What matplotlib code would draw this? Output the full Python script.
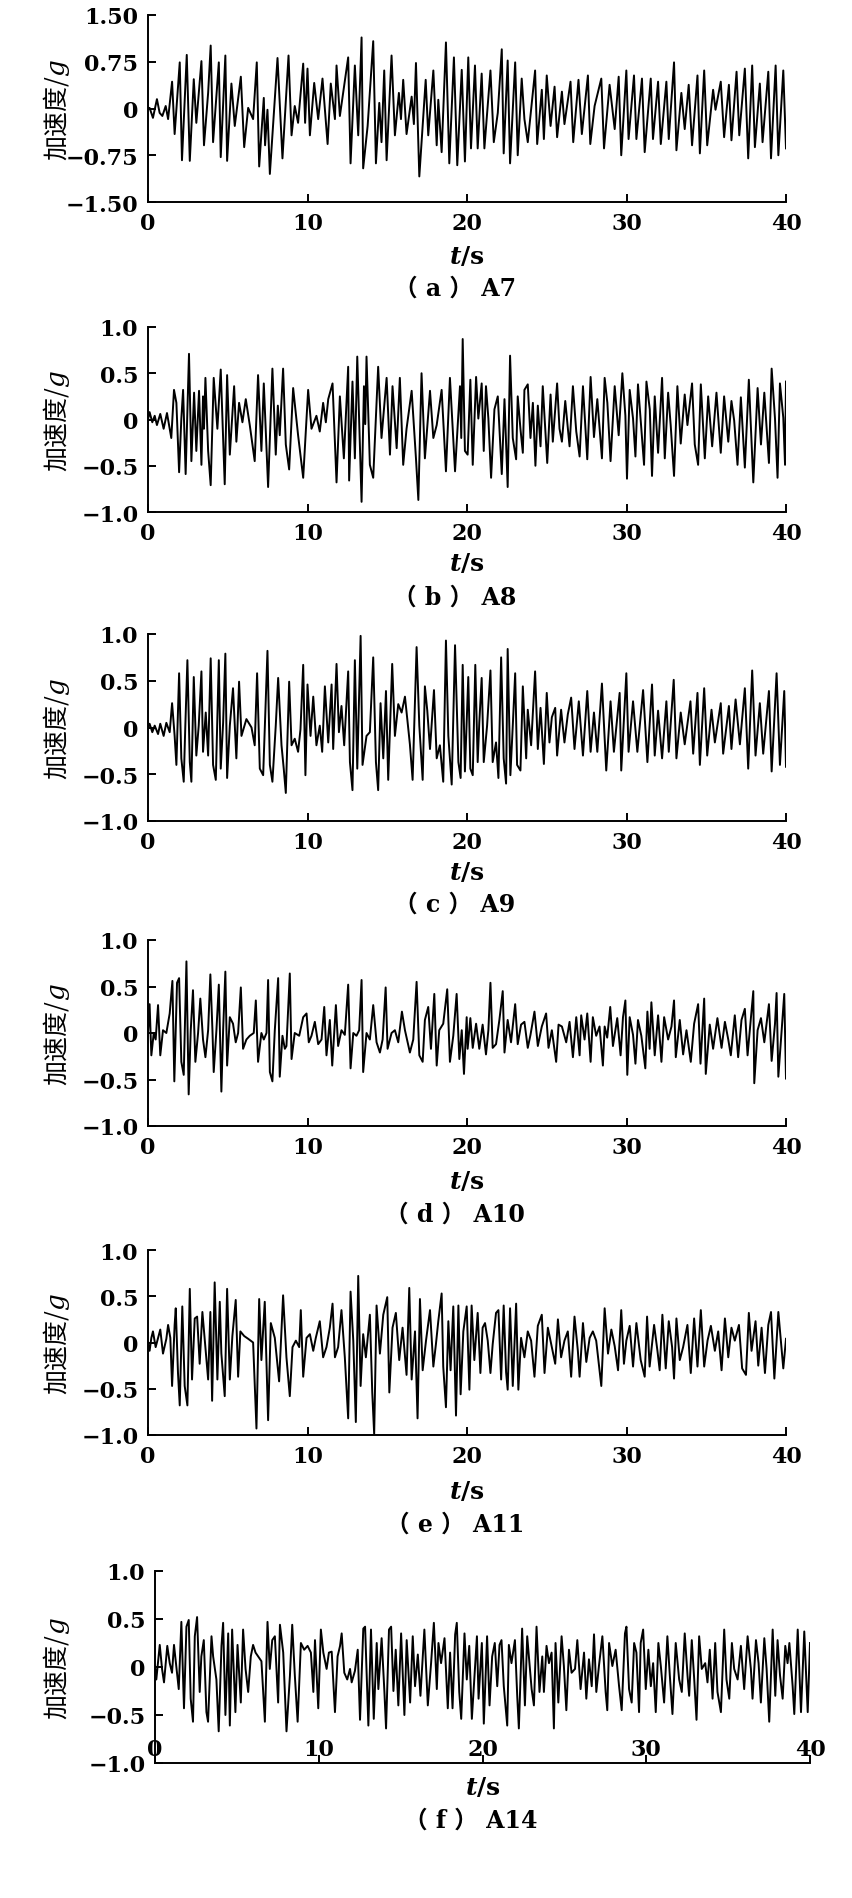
import matplotlib
matplotlib.use("Agg")
import matplotlib.pyplot as plt

# (time s, acceleration g) pairs, peaks and troughs
a7 = [(0.00, 0.00), (0.10, 0.01), (0.31, -0.15), (0.56, 0.15), (0.73, -0.07), (0.90, -0.12), (1.11, 0.04), (1.26, -0.17),
      (1.51, 0.43), (1.67, -0.41), (1.99, 0.74), (2.13, -0.83), (2.43, 0.86), (2.62, -0.84), (2.87, 0.47), (3.03, -0.23),
      (3.35, 0.76), (3.51, -0.59), (3.77, 0.25), (3.93, 1.01), (4.08, -0.54), (4.44, 0.74), (4.56, -0.78), (4.85, 0.85),
      (4.96, -0.84), (5.23, 0.40), (5.44, -0.28), (5.82, 0.51), (6.03, -0.62), (6.28, 0.01), (6.59, -0.17), (6.82, 0.74),
      (6.97, -0.93), (7.26, 0.17), (7.34, -0.59), (7.49, -0.02), (7.64, -1.05), (8.12, 0.81), (8.43, -0.80), (8.81, 0.85),
      (9.00, -0.43), (9.20, 0.04), (9.41, -0.23), (9.73, 0.72), (9.85, -0.23), (10.00, 0.64), (10.15, -0.43), (10.42, 0.41),
      (10.67, -0.17), (10.94, 0.48), (11.26, -0.57), (11.46, 0.40), (11.72, -0.17), (11.82, 0.69), (12.03, -0.12),
      (12.55, 0.82), (12.70, -0.88), (12.97, 0.69), (13.18, -0.43), (13.39, 1.14), (13.49, -0.96), (13.77, -0.28),
      (14.12, 1.08), (14.29, -0.88), (14.50, 0.09), (14.64, -0.54), (14.81, 0.61), (14.96, -0.83), (15.27, 0.85),
      (15.48, -0.43), (15.73, 0.25), (15.86, -0.17), (16.00, 0.46), (16.21, -0.41), (16.53, 0.19), (16.67, -0.25),
      (16.80, 0.73), (17.01, -1.09), (17.41, 0.46), (17.57, -0.43), (17.89, 0.61), (18.10, -0.59), (18.20, 0.14),
      (18.41, -0.70), (18.68, 1.06), (18.89, -0.88), (19.18, 0.82), (19.39, -0.91), (19.67, 0.62), (19.87, -0.85),
      (20.08, 0.82), (20.25, -0.64), (20.50, 0.69), (20.67, -0.64), (20.92, 0.56), (21.09, -0.64), (21.47, 0.61),
      (21.68, -0.54), (21.93, -0.07), (22.18, 0.95), (22.30, -0.72), (22.55, 0.77), (22.70, -0.88), (23.02, 0.74),
      (23.18, -0.75), (23.43, 0.48), (23.60, -0.17), (23.81, -0.54), (24.27, 0.61), (24.40, -0.57), (24.69, 0.30),
      (24.82, -0.49), (25.00, 0.53), (25.24, -0.28), (25.49, 0.35), (25.65, -0.46), (25.95, 0.27), (26.11, -0.25),
      (26.49, 0.43), (26.66, -0.54), (26.99, 0.46), (27.20, -0.41), (27.58, 0.53), (27.73, -0.57), (28.00, 0.04),
      (28.42, 0.48), (28.59, -0.64), (28.94, 0.38), (29.26, -0.33), (29.51, 0.51), (29.67, -0.75), (29.99, 0.61),
      (30.13, -0.49), (30.47, 0.53), (30.62, -0.49), (30.97, 0.48), (31.14, -0.70), (31.52, 0.48), (31.66, -0.49),
      (31.98, 0.43), (32.15, -0.57), (32.50, 0.43), (32.65, -0.49), (32.98, 0.74), (33.13, -0.67), (33.44, 0.25),
      (33.65, -0.33), (33.90, 0.38), (34.11, -0.59), (34.45, 0.53), (34.60, -0.72), (34.87, 0.61), (35.06, -0.59),
      (35.43, 0.30), (35.58, -0.02), (35.91, 0.43), (36.12, -0.46), (36.42, 0.38), (36.58, -0.51), (36.90, 0.59),
      (37.07, -0.43), (37.42, 0.64), (37.63, -0.80), (37.88, 0.69), (38.05, -0.62), (38.36, 0.40), (38.53, -0.54),
      (38.89, 0.59), (39.06, -0.80), (39.35, 0.69), (39.52, -0.75), (39.83, 0.61), (40.00, -0.64)]

a8 = [(0.00, 0.00), (0.10, 0.08), (0.27, -0.03), (0.42, 0.04), (0.56, -0.06), (0.77, 0.06), (0.98, -0.10), (1.19, 0.07),
      (1.46, -0.20), (1.63, 0.32), (1.78, 0.18), (1.95, -0.57), (2.09, 0.01), (2.20, 0.32), (2.36, -0.59), (2.57, 0.71),
      (2.72, -0.45), (2.89, 0.29), (3.03, -0.34), (3.20, 0.31), (3.35, -0.49), (3.45, 0.25), (3.51, -0.10), (3.60, 0.45),
      (3.77, -0.34), (3.93, -0.71), (4.12, 0.45), (4.35, -0.10), (4.56, 0.54), (4.81, -0.70), (4.96, 0.48), (5.13, -0.38),
      (5.40, 0.36), (5.54, -0.24), (5.71, 0.18), (5.92, -0.03), (6.13, 0.22), (6.38, -0.06), (6.69, -0.45), (6.90, 0.48),
      (7.11, -0.34), (7.26, 0.39), (7.53, -0.73), (7.80, 0.55), (8.01, -0.38), (8.14, 0.15), (8.26, -0.17), (8.47, 0.55),
      (8.64, -0.27), (8.85, -0.54), (9.10, 0.34), (9.41, -0.17), (9.73, -0.63), (10.04, 0.32), (10.25, -0.10),
      (10.56, 0.04), (10.77, -0.13), (10.98, 0.18), (11.15, -0.03), (11.30, 0.22), (11.57, 0.39), (11.82, -0.68),
      (12.03, 0.25), (12.28, -0.42), (12.55, 0.57), (12.61, -0.66), (12.82, 0.41), (12.97, -0.42), (13.12, 0.68),
      (13.39, -0.89), (13.54, 0.36), (13.62, -0.05), (13.70, 0.68), (13.91, -0.49), (14.12, -0.63), (14.43, 0.57),
      (14.64, -0.20), (14.96, 0.45), (15.17, -0.38), (15.33, 0.36), (15.59, -0.31), (15.79, 0.45), (16.00, -0.49),
      (16.21, -0.10), (16.53, 0.31), (16.80, -0.42), (16.95, -0.87), (17.15, 0.50), (17.36, -0.42), (17.68, 0.31),
      (17.89, -0.20), (18.10, -0.06), (18.41, 0.32), (18.68, -0.56), (18.93, 0.45), (19.25, -0.56), (19.56, 0.36),
      (19.64, -0.20), (19.73, 0.87), (19.87, -0.34), (20.04, -0.38), (20.21, 0.43), (20.36, -0.49), (20.57, 0.46),
      (20.71, 0.01), (20.92, 0.39), (21.05, -0.34), (21.19, 0.36), (21.34, 0.01), (21.51, -0.63), (21.72, 0.11),
      (21.93, 0.25), (22.18, -0.59), (22.35, 0.22), (22.55, -0.73), (22.70, 0.69), (22.87, -0.20), (23.08, -0.43),
      (23.18, 0.25), (23.35, -0.10), (23.50, -0.36), (23.60, 0.32), (23.81, 0.38), (23.98, -0.20), (24.13, 0.18),
      (24.29, -0.50), (24.44, 0.15), (24.61, -0.29), (24.75, 0.36), (25.03, -0.47), (25.24, 0.27), (25.38, -0.24),
      (25.65, 0.39), (25.80, -0.10), (25.95, -0.24), (26.16, 0.20), (26.43, -0.29), (26.64, 0.36), (26.85, -0.13),
      (27.06, -0.40), (27.27, 0.36), (27.54, -0.43), (27.75, 0.46), (27.96, -0.19), (28.17, 0.22), (28.46, -0.42),
      (28.63, 0.45), (28.80, 0.18), (29.00, -0.45), (29.26, 0.36), (29.51, -0.17), (29.74, 0.50), (29.93, 0.04),
      (30.03, -0.64), (30.20, 0.32), (30.41, 0.01), (30.56, -0.40), (30.72, 0.38), (30.93, -0.10), (31.10, -0.49),
      (31.25, 0.41), (31.46, 0.11), (31.60, -0.61), (31.77, 0.25), (31.98, -0.36), (32.23, 0.45), (32.40, -0.42),
      (32.61, 0.29), (32.77, -0.06), (32.98, -0.61), (33.19, 0.36), (33.40, -0.26), (33.65, 0.27), (33.82, -0.06),
      (34.11, 0.39), (34.28, -0.27), (34.49, -0.49), (34.66, 0.38), (34.91, -0.42), (35.12, 0.25), (35.37, -0.29),
      (35.64, 0.29), (35.91, -0.36), (36.12, 0.25), (36.38, -0.24), (36.58, 0.20), (36.75, -0.01), (36.96, -0.49),
      (37.17, 0.24), (37.42, -0.52), (37.67, 0.43), (37.95, -0.68), (38.22, 0.34), (38.43, -0.27), (38.64, 0.29),
      (38.93, -0.47), (39.10, 0.55), (39.31, 0.01), (39.47, -0.63), (39.62, 0.39), (39.83, 0.02), (39.94, -0.49),
      (40.00, 0.41)]

a9 = [(0.00, 0.00), (0.10, 0.04), (0.27, -0.05), (0.42, 0.02), (0.63, -0.07), (0.77, 0.04), (0.98, -0.09), (1.15, 0.05),
      (1.36, -0.05), (1.51, 0.26), (1.67, -0.09), (1.78, -0.40), (1.95, 0.58), (2.09, -0.33), (2.24, -0.58), (2.34, 0.02),
      (2.47, 0.72), (2.62, -0.37), (2.72, -0.58), (2.87, 0.54), (3.03, -0.30), (3.18, 0.02), (3.35, 0.60), (3.45, -0.26),
      (3.62, 0.16), (3.77, -0.30), (3.93, 0.74), (4.08, -0.40), (4.25, -0.56), (4.44, 0.72), (4.56, -0.44), (4.71, 0.05),
      (4.85, 0.79), (4.96, -0.54), (5.13, 0.02), (5.33, 0.42), (5.54, -0.33), (5.71, 0.49), (5.86, -0.09), (6.17, 0.09),
      (6.49, 0.00), (6.69, -0.19), (6.84, 0.58), (7.01, -0.44), (7.22, -0.51), (7.49, 0.82), (7.64, -0.40), (7.80, -0.58),
      (8.01, 0.02), (8.16, 0.53), (8.37, -0.19), (8.51, -0.44), (8.64, -0.70), (8.85, 0.49), (9.00, -0.19), (9.20, -0.12),
      (9.41, -0.26), (9.56, -0.02), (9.73, 0.67), (9.87, -0.51), (10.00, 0.46), (10.19, -0.09), (10.36, 0.33),
      (10.56, -0.19), (10.77, 0.02), (10.92, -0.26), (11.09, 0.44), (11.30, -0.16), (11.51, 0.46), (11.61, -0.23),
      (11.82, 0.68), (11.97, -0.05), (12.13, 0.23), (12.30, -0.19), (12.55, 0.60), (12.66, -0.37), (12.82, -0.67),
      (12.97, 0.72), (13.12, -0.44), (13.33, 0.98), (13.45, -0.40), (13.70, -0.09), (13.91, -0.05), (14.12, 0.75),
      (14.29, -0.37), (14.43, -0.67), (14.58, 0.26), (14.75, -0.33), (14.92, 0.39), (15.06, -0.56), (15.31, 0.68),
      (15.48, -0.09), (15.69, 0.25), (15.90, 0.16), (16.11, 0.33), (16.42, -0.18), (16.59, -0.56), (16.84, 0.86),
      (17.01, 0.02), (17.22, -0.56), (17.36, 0.44), (17.51, 0.18), (17.68, -0.23), (17.93, 0.40), (18.10, -0.33),
      (18.30, -0.19), (18.51, -0.58), (18.68, 0.93), (18.83, -0.09), (19.04, -0.61), (19.25, 0.88), (19.46, -0.37),
      (19.60, -0.54), (19.73, 0.67), (19.87, -0.47), (20.08, 0.54), (20.21, -0.44), (20.36, -0.51), (20.52, 0.67),
      (20.67, -0.37), (20.77, 0.05), (20.92, 0.53), (21.05, -0.37), (21.26, 0.02), (21.47, 0.61), (21.61, -0.37),
      (21.82, -0.16), (21.97, -0.54), (22.14, 0.75), (22.30, -0.33), (22.45, -0.60), (22.55, 0.84), (22.72, -0.51),
      (22.87, 0.02), (23.02, 0.58), (23.14, -0.40), (23.35, -0.46), (23.50, 0.44), (23.71, -0.33), (23.81, 0.19),
      (24.02, -0.19), (24.27, 0.60), (24.44, -0.23), (24.61, 0.21), (24.82, -0.39), (25.00, 0.37), (25.17, -0.16),
      (25.32, 0.11), (25.53, 0.21), (25.65, -0.30), (25.90, 0.19), (26.11, -0.16), (26.32, 0.14), (26.53, 0.32),
      (26.74, -0.23), (27.01, 0.28), (27.27, -0.30), (27.54, 0.39), (27.75, -0.26), (27.96, 0.16), (28.17, -0.26),
      (28.46, 0.47), (28.73, -0.46), (29.00, 0.28), (29.21, -0.26), (29.57, 0.37), (29.67, -0.46), (29.99, 0.58),
      (30.13, -0.26), (30.41, 0.28), (30.68, -0.26), (31.04, 0.40), (31.31, -0.37), (31.60, 0.46), (31.77, -0.30),
      (31.98, 0.18), (32.23, -0.33), (32.50, 0.28), (32.65, -0.26), (32.96, 0.51), (33.13, -0.33), (33.40, 0.16),
      (33.65, -0.18), (34.01, 0.28), (34.18, -0.28), (34.45, 0.37), (34.60, -0.40), (34.87, 0.42), (35.06, -0.30),
      (35.33, 0.19), (35.54, -0.16), (35.91, 0.26), (36.06, -0.28), (36.42, 0.23), (36.58, -0.23), (36.84, 0.30),
      (37.11, -0.18), (37.42, 0.42), (37.63, -0.44), (37.88, 0.61), (38.09, -0.30), (38.36, 0.26), (38.57, -0.28),
      (38.93, 0.39), (39.10, -0.47), (39.41, 0.58), (39.62, -0.40), (39.89, 0.39), (40.00, -0.42)]

a10 = [(0.00, 0.00), (0.10, 0.31), (0.21, -0.24), (0.36, 0.00), (0.48, -0.07), (0.63, 0.30), (0.77, -0.24), (0.94, 0.03),
       (1.15, 0.00), (1.36, 0.21), (1.53, 0.56), (1.65, -0.52), (1.82, 0.54), (1.95, 0.59), (2.09, -0.31), (2.24, -0.45),
       (2.41, 0.77), (2.55, -0.66), (2.68, 0.03), (2.82, 0.46), (2.97, -0.31), (3.14, 0.00), (3.28, 0.37), (3.45, -0.07),
       (3.60, -0.26), (3.77, 0.03), (3.91, 0.63), (4.04, 0.03), (4.12, -0.42), (4.29, 0.03), (4.44, 0.52), (4.60, -0.63),
       (4.71, 0.03), (4.85, 0.66), (4.96, -0.35), (5.13, 0.17), (5.33, 0.10), (5.50, -0.10), (5.65, 0.00), (5.82, 0.49),
       (5.96, -0.17), (6.17, -0.07), (6.38, -0.03), (6.63, 0.00), (6.76, 0.35), (6.90, -0.31), (7.11, 0.00), (7.26, -0.07),
       (7.43, 0.00), (7.53, 0.57), (7.64, -0.42), (7.80, -0.52), (7.95, 0.03), (8.16, 0.59), (8.26, -0.47), (8.43, -0.03),
       (8.58, -0.17), (8.68, -0.14), (8.89, 0.64), (9.00, -0.28), (9.20, 0.00), (9.48, -0.03), (9.73, 0.17), (9.94, 0.21),
       (10.08, -0.10), (10.25, -0.03), (10.46, 0.12), (10.67, -0.12), (10.88, -0.07), (11.05, 0.28), (11.19, -0.24),
       (11.40, 0.14), (11.55, -0.35), (11.78, 0.30), (11.92, -0.14), (12.13, 0.03), (12.34, -0.02), (12.55, 0.52),
       (12.70, -0.38), (12.87, 0.00), (13.07, -0.03), (13.24, 0.03), (13.39, 0.57), (13.49, -0.42), (13.70, 0.00),
       (13.91, -0.07), (14.12, 0.30), (14.33, -0.10), (14.54, -0.21), (14.71, -0.07), (14.90, 0.49), (15.02, -0.17),
       (15.27, 0.00), (15.48, 0.03), (15.69, -0.10), (15.92, 0.23), (16.11, 0.03), (16.42, -0.21), (16.63, -0.07),
       (16.84, 0.55), (17.01, -0.24), (17.22, -0.31), (17.36, 0.14), (17.57, 0.28), (17.74, -0.17), (17.95, 0.42),
       (18.10, -0.35), (18.26, 0.03), (18.51, 0.10), (18.76, 0.47), (18.93, -0.31), (19.14, -0.03), (19.35, 0.42),
       (19.52, -0.28), (19.67, 0.03), (19.81, -0.44), (19.98, 0.17), (20.04, -0.17), (20.21, 0.16), (20.36, -0.16),
       (20.57, 0.10), (20.77, -0.17), (20.98, 0.09), (21.19, -0.23), (21.34, 0.03), (21.47, 0.54), (21.61, -0.16),
       (21.82, -0.12), (22.03, 0.14), (22.24, 0.45), (22.35, -0.21), (22.55, 0.14), (22.76, -0.10), (23.02, 0.31),
       (23.18, -0.12), (23.39, 0.09), (23.60, 0.12), (23.81, -0.16), (23.98, -0.02), (24.23, 0.23), (24.44, -0.14),
       (24.69, 0.07), (24.96, 0.21), (25.11, -0.16), (25.32, 0.03), (25.59, -0.31), (25.74, 0.09), (25.95, 0.07),
       (26.22, -0.10), (26.43, 0.12), (26.64, -0.26), (26.85, 0.17), (27.06, -0.24), (27.16, 0.19), (27.37, -0.07),
       (27.54, 0.21), (27.75, -0.31), (27.89, 0.17), (28.10, -0.03), (28.31, 0.07), (28.52, -0.35), (28.63, 0.07),
       (28.79, -0.05), (28.98, 0.28), (29.15, -0.14), (29.42, 0.16), (29.63, -0.24), (29.78, 0.17), (29.93, 0.35),
       (30.05, -0.45), (30.20, 0.17), (30.41, -0.02), (30.56, -0.33), (30.72, 0.14), (30.93, -0.03), (31.18, -0.38),
       (31.31, 0.23), (31.45, -0.17), (31.56, 0.33), (31.77, -0.24), (31.98, 0.19), (32.19, -0.31), (32.36, 0.17),
       (32.61, -0.07), (32.82, 0.07), (32.98, 0.35), (33.09, -0.26), (33.34, 0.14), (33.55, -0.23), (33.76, 0.03),
       (34.03, -0.31), (34.24, 0.10), (34.49, 0.31), (34.64, -0.33), (34.87, 0.37), (34.97, -0.44), (35.22, 0.09),
       (35.43, -0.17), (35.70, 0.16), (35.96, -0.16), (36.17, 0.12), (36.38, -0.07), (36.54, -0.24), (36.79, 0.19),
       (37.00, -0.26), (37.21, 0.14), (37.42, 0.26), (37.59, -0.24), (37.80, 0.16), (37.95, 0.45), (38.01, -0.54),
       (38.22, 0.03), (38.43, 0.16), (38.64, -0.10), (38.93, 0.31), (39.10, -0.30), (39.31, 0.10), (39.41, 0.43),
       (39.52, -0.47), (39.73, 0.03), (39.89, 0.42), (40.00, -0.49)]

a11 = [(0.00, 0.00), (0.10, -0.09), (0.21, 0.05), (0.31, 0.12), (0.48, -0.05), (0.63, 0.05), (0.77, 0.14), (0.94, -0.12),
       (1.15, 0.04), (1.26, 0.19), (1.40, 0.05), (1.51, -0.47), (1.67, 0.19), (1.74, 0.37), (1.88, -0.33), (1.99, -0.68),
       (2.15, 0.39), (2.30, -0.47), (2.47, -0.68), (2.62, 0.58), (2.76, -0.40), (2.93, 0.26), (3.08, 0.28), (3.24, -0.23),
       (3.41, 0.33), (3.56, 0.02), (3.77, -0.40), (3.91, 0.33), (4.02, -0.63), (4.18, 0.65), (4.35, -0.40), (4.50, 0.44),
       (4.60, -0.12), (4.81, -0.58), (4.96, 0.58), (5.13, -0.40), (5.29, 0.07), (5.50, 0.46), (5.65, -0.37), (5.79, 0.12),
       (6.03, 0.07), (6.28, 0.04), (6.59, 0.00), (6.80, -0.93), (6.97, 0.47), (7.11, -0.19), (7.32, 0.44), (7.53, -0.84),
       (7.70, 0.21), (7.95, 0.05), (8.22, -0.42), (8.47, 0.51), (8.68, -0.16), (8.89, -0.58), (9.06, -0.05), (9.27, 0.02),
       (9.48, -0.05), (9.58, 0.35), (9.73, -0.37), (9.94, 0.05), (10.15, 0.09), (10.36, -0.09), (10.52, 0.05),
       (10.77, 0.23), (10.98, -0.16), (11.19, -0.05), (11.40, 0.16), (11.57, 0.42), (11.72, -0.16), (11.92, -0.05),
       (12.13, 0.35), (12.34, -0.16), (12.55, -0.82), (12.70, 0.55), (12.87, 0.02), (13.03, -0.86), (13.18, 0.72),
       (13.33, -0.47), (13.49, 0.09), (13.66, -0.16), (13.91, 0.30), (14.06, -0.54), (14.18, -0.99), (14.33, 0.40),
       (14.54, -0.12), (14.75, 0.30), (15.00, 0.49), (15.13, -0.54), (15.33, 0.16), (15.54, 0.32), (15.75, -0.19),
       (15.96, 0.16), (16.21, -0.35), (16.38, 0.59), (16.53, -0.40), (16.74, 0.12), (16.90, -0.82), (17.05, 0.47),
       (17.22, -0.30), (17.43, 0.02), (17.68, 0.35), (17.89, -0.26), (18.05, -0.02), (18.20, 0.23), (18.41, 0.53),
       (18.51, -0.26), (18.68, -0.70), (18.83, 0.23), (18.97, -0.30), (19.14, 0.39), (19.31, -0.79), (19.46, 0.40),
       (19.60, -0.56), (19.77, 0.12), (19.98, 0.39), (20.15, -0.51), (20.29, 0.40), (20.46, -0.19), (20.67, 0.32),
       (20.84, -0.33), (20.98, 0.16), (21.13, 0.21), (21.30, 0.02), (21.47, -0.33), (21.61, -0.02), (21.82, 0.32),
       (21.97, 0.35), (22.14, -0.40), (22.30, 0.40), (22.45, -0.32), (22.55, -0.51), (22.70, 0.37), (22.87, -0.47),
       (23.08, 0.42), (23.22, -0.51), (23.39, 0.05), (23.60, -0.16), (23.81, 0.12), (24.02, 0.02), (24.23, -0.37),
       (24.44, 0.18), (24.69, 0.30), (24.86, -0.33), (25.07, 0.16), (25.28, -0.02), (25.53, -0.23), (25.70, 0.25),
       (25.90, -0.16), (26.11, 0.02), (26.32, 0.12), (26.53, -0.37), (26.74, 0.28), (26.95, -0.09), (27.06, -0.37),
       (27.27, 0.21), (27.48, -0.21), (27.69, 0.05), (27.89, 0.12), (28.10, 0.02), (28.42, -0.47), (28.63, 0.37),
       (28.84, -0.12), (29.05, 0.14), (29.26, -0.04), (29.47, -0.30), (29.67, 0.35), (29.84, -0.23), (29.99, 0.02),
       (30.20, 0.18), (30.41, -0.26), (30.62, 0.21), (30.89, -0.19), (31.14, -0.37), (31.29, 0.28), (31.45, -0.26),
       (31.73, 0.19), (31.94, -0.09), (32.08, -0.30), (32.25, 0.30), (32.46, -0.28), (32.65, 0.23), (32.86, -0.05),
       (32.98, -0.39), (33.13, 0.26), (33.34, -0.19), (33.55, -0.05), (33.82, 0.19), (34.03, -0.33), (34.24, 0.26),
       (34.45, -0.26), (34.66, 0.35), (34.87, -0.26), (35.08, 0.02), (35.29, 0.18), (35.54, -0.09), (35.75, 0.12),
       (35.96, -0.30), (36.17, 0.26), (36.38, -0.16), (36.58, 0.16), (36.79, 0.02), (37.05, 0.19), (37.25, -0.28),
       (37.49, -0.35), (37.67, 0.32), (37.84, -0.09), (38.09, 0.23), (38.26, -0.25), (38.47, 0.16), (38.68, -0.33),
       (38.89, 0.19), (39.06, 0.33), (39.27, -0.39), (39.52, 0.33), (39.68, 0.02), (39.83, -0.28), (40.00, 0.04)]

a14 = [(0.00, 0.01), (0.08, -0.13), (0.29, 0.23), (0.43, -0.02), (0.55, -0.16), (0.75, 0.22), (0.90, 0.04), (1.04, -0.06),
       (1.16, 0.23), (1.30, 0.01), (1.45, -0.23), (1.61, 0.47), (1.77, -0.43), (1.92, 0.42), (2.06, 0.49), (2.18, -0.33),
       (2.32, -0.57), (2.43, 0.32), (2.57, 0.52), (2.73, -0.26), (2.83, 0.11), (2.98, 0.28), (3.14, -0.47), (3.24, -0.57),
       (3.45, 0.32), (3.55, 0.11), (3.75, -0.13), (3.89, -0.67), (4.06, 0.22), (4.16, 0.46), (4.30, -0.50), (4.47, 0.35),
       (4.57, -0.61), (4.71, 0.39), (4.91, -0.47), (5.04, 0.23), (5.24, -0.37), (5.38, 0.39), (5.53, -0.02), (5.69, -0.26),
       (5.85, 0.11), (5.99, 0.23), (6.14, 0.15), (6.30, 0.11), (6.50, 0.06), (6.71, -0.57), (6.87, 0.47), (7.01, -0.02),
       (7.16, 0.28), (7.32, 0.32), (7.52, -0.37), (7.63, 0.44), (7.83, 0.15), (8.03, -0.67), (8.24, -0.09), (8.38, 0.44),
       (8.54, -0.09), (8.71, -0.57), (8.91, 0.25), (9.11, 0.18), (9.32, 0.22), (9.52, 0.15), (9.67, -0.26), (9.77, 0.28),
       (9.97, -0.43), (10.13, 0.39), (10.28, 0.15), (10.48, -0.02), (10.62, 0.15), (10.79, 0.16), (10.99, -0.47),
       (11.15, 0.11), (11.30, 0.22), (11.40, 0.35), (11.56, -0.06), (11.74, -0.13), (11.91, -0.02), (12.01, -0.16),
       (12.21, -0.04), (12.38, 0.18), (12.52, -0.55), (12.72, 0.40), (12.83, 0.42), (13.03, -0.61), (13.19, 0.39),
       (13.36, -0.54), (13.54, 0.25), (13.64, -0.23), (13.84, 0.30), (14.01, -0.26), (14.11, -0.64), (14.29, 0.39),
       (14.42, 0.42), (14.56, -0.25), (14.70, 0.18), (14.86, -0.40), (15.03, 0.35), (15.23, -0.50), (15.37, 0.28),
       (15.58, -0.37), (15.74, 0.32), (15.88, -0.20), (16.05, 0.13), (16.21, -0.30), (16.45, 0.39), (16.66, -0.40),
       (16.86, 0.04), (17.03, 0.46), (17.21, -0.23), (17.31, 0.25), (17.47, 0.04), (17.68, 0.30), (17.88, -0.43),
       (18.02, 0.15), (18.17, -0.43), (18.33, 0.34), (18.43, 0.46), (18.58, -0.26), (18.70, -0.54), (18.90, 0.35),
       (19.04, -0.13), (19.19, 0.22), (19.35, -0.54), (19.51, -0.09), (19.66, 0.32), (19.76, -0.33), (19.96, 0.25),
       (20.08, -0.59), (20.28, 0.32), (20.43, -0.40), (20.59, 0.11), (20.75, 0.25), (20.90, -0.20), (21.04, 0.23),
       (21.16, 0.28), (21.30, -0.20), (21.51, -0.61), (21.61, 0.23), (21.77, 0.04), (21.98, 0.28), (22.12, -0.30),
       (22.22, -0.64), (22.42, 0.40), (22.59, -0.40), (22.73, 0.32), (22.87, 0.04), (23.00, -0.23), (23.14, -0.40),
       (23.30, 0.42), (23.48, -0.26), (23.65, 0.11), (23.75, -0.26), (23.91, 0.22), (24.06, 0.04), (24.22, 0.15),
       (24.36, -0.64), (24.46, 0.25), (24.63, -0.37), (24.83, 0.32), (24.97, 0.01), (25.12, -0.45), (25.28, 0.18),
       (25.44, -0.06), (25.65, -0.02), (25.79, 0.28), (25.99, -0.23), (26.20, 0.15), (26.34, -0.33), (26.50, 0.08),
       (26.67, -0.20), (26.81, 0.34), (26.95, -0.26), (27.11, 0.01), (27.32, 0.32), (27.52, -0.26), (27.62, -0.45),
       (27.73, 0.25), (27.93, 0.01), (28.13, 0.18), (28.34, -0.20), (28.50, -0.45), (28.70, 0.35), (28.79, 0.42),
       (28.95, -0.23), (29.11, -0.37), (29.26, 0.25), (29.40, 0.15), (29.56, -0.47), (29.66, 0.25), (29.81, 0.39),
       (29.97, -0.23), (30.13, 0.18), (30.28, -0.20), (30.42, 0.04), (30.58, -0.47), (30.74, 0.25), (30.89, 0.01),
       (31.09, -0.37), (31.29, 0.32), (31.44, -0.09), (31.60, -0.49), (31.80, 0.25), (32.01, -0.13), (32.17, -0.26),
       (32.35, 0.35), (32.52, -0.09), (32.62, -0.30), (32.78, 0.28), (32.93, -0.13), (33.07, -0.55), (33.23, 0.32),
       (33.39, -0.02), (33.60, 0.04), (33.74, -0.16), (33.88, 0.18), (34.05, -0.33), (34.21, 0.25), (34.35, -0.26),
       (34.56, -0.47), (34.76, 0.39), (34.90, -0.13), (35.07, -0.33), (35.23, 0.25), (35.37, -0.02), (35.58, -0.13),
       (35.78, 0.22), (35.98, -0.23), (36.19, 0.32), (36.39, -0.02), (36.49, -0.33), (36.70, 0.28), (36.86, 0.04),
       (37.00, -0.37), (37.21, 0.30), (37.35, -0.02), (37.51, -0.57), (37.72, 0.39), (37.88, -0.30), (38.02, 0.28),
       (38.17, -0.09), (38.33, -0.33), (38.49, 0.22), (38.63, 0.04), (38.74, 0.25), (38.94, -0.20), (39.04, -0.49),
       (39.25, 0.39), (39.45, -0.47), (39.65, 0.37), (39.86, -0.47), (40.00, 0.25)]

captions = ["（ a ） A7", "（ b ） A8", "（ c ） A9", "（ d ） A10", "（ e ） A11", "（ f ） A14"]
x_ticks = [0, 10, 20, 30, 40]
y_ticks_a = [1.5, 0.75, 0, -0.75, -1.5]
y_labels_a = ["1.50", "0.75", "0", "\u22120.75", "\u22121.50"]
y_ticks = [1.0, 0.5, 0, -0.5, -1.0]
y_labels = ["1.0", "0.5", "0", "\u22120.5", "\u22121.0"]

W, H = 852, 1899


def main():
    plt.rcParams["mathtext.fontset"] = "custom"
    plt.rcParams["mathtext.it"] = "DejaVu Serif:italic:bold"
    plt.rcParams["mathtext.rm"] = "DejaVu Serif:bold"

    fig = plt.figure(figsize=(W / 100, H / 100), dpi=100)

    # axes boxes in pixels: left, top, right, bottom
    boxes = [(148, 16, 786, 203), (148, 328, 786, 513), (148, 635, 786, 822),
             (148, 941, 786, 1127), (148, 1251, 786, 1436), (155, 1572, 810, 1764)]
    xlab_y = [257, 564, 873, 1182, 1492, 1788]
    cap_y = [289, 598, 905, 1215, 1525, 1821]
    series = [a7, a8, a9, a10, a11, a14]

    tick_font = dict(family="DejaVu Serif", weight="bold", size=16)
    renderer = fig.canvas.get_renderer()

    for i, data in enumerate(series):
        x0, y0, x1, y1 = boxes[i]
        ax = fig.add_axes([x0 / W, 1 - y1 / H, (x1 - x0) / W, (y1 - y0) / H])
        t = [p[0] for p in data]
        v = [p[1] for p in data]
        ax.plot(t, v, color="black", lw=1.4)
        ax.set_xlim(0, 40)
        if i == 0:
            ax.set_ylim(-1.5, 1.5)
            ax.set_yticks(y_ticks_a)
            ax.set_yticklabels(y_labels_a, fontdict=tick_font)
        else:
            ax.set_ylim(-1.0, 1.0)
            ax.set_yticks(y_ticks)
            ax.set_yticklabels(y_labels, fontdict=tick_font)
        ax.set_xticks(x_ticks)
        ax.set_xticklabels([str(x) for x in x_ticks], fontdict=tick_font)
        ax.spines[["top", "right"]].set_visible(False)
        ax.spines[["left", "bottom"]].set_linewidth(1.4)
        ax.tick_params(direction="in", length=6, width=1.4, pad=7)
        if i == 5:
            # last panel: x tick numbers sit just above the axis line
            ax.tick_params(axis="x", pad=-18)

        xc = (x0 + x1) / 2
        fig.text(xc / W, 1 - xlab_y[i] / H, "$t$/s", ha="center", va="center",
                 fontsize=18, family="DejaVu Serif", weight="bold")
        fig.text((xc - 12) / W, 1 - cap_y[i] / H, captions[i], ha="center", va="center",
                 fontsize=17, family=["DejaVu Serif", "Noto Sans CJK SC"], weight="bold")

        # y label: Chinese part plus italic g, stacked along a rotated baseline
        yc = (y0 + y1) / 2
        cn = fig.text(0, 0, "加速度/", rotation=90, rotation_mode="anchor",
                      ha="left", va="baseline", fontsize=18, family="Noto Sans CJK SC")
        g = fig.text(0, 0, "g", rotation=90, rotation_mode="anchor",
                     ha="left", va="baseline", fontsize=19, family="DejaVu Serif", style="italic")
        h1 = cn.get_window_extent(renderer).height
        h2 = g.get_window_extent(renderer).height
        start = yc + (h1 + h2) / 2
        xb = 64
        cn.set_position((xb / W, 1 - start / H))
        g.set_position((xb / W, 1 - (start - h1) / H))

    fig.savefig("out.png", dpi=100)


if __name__ == "__main__":
    main()
